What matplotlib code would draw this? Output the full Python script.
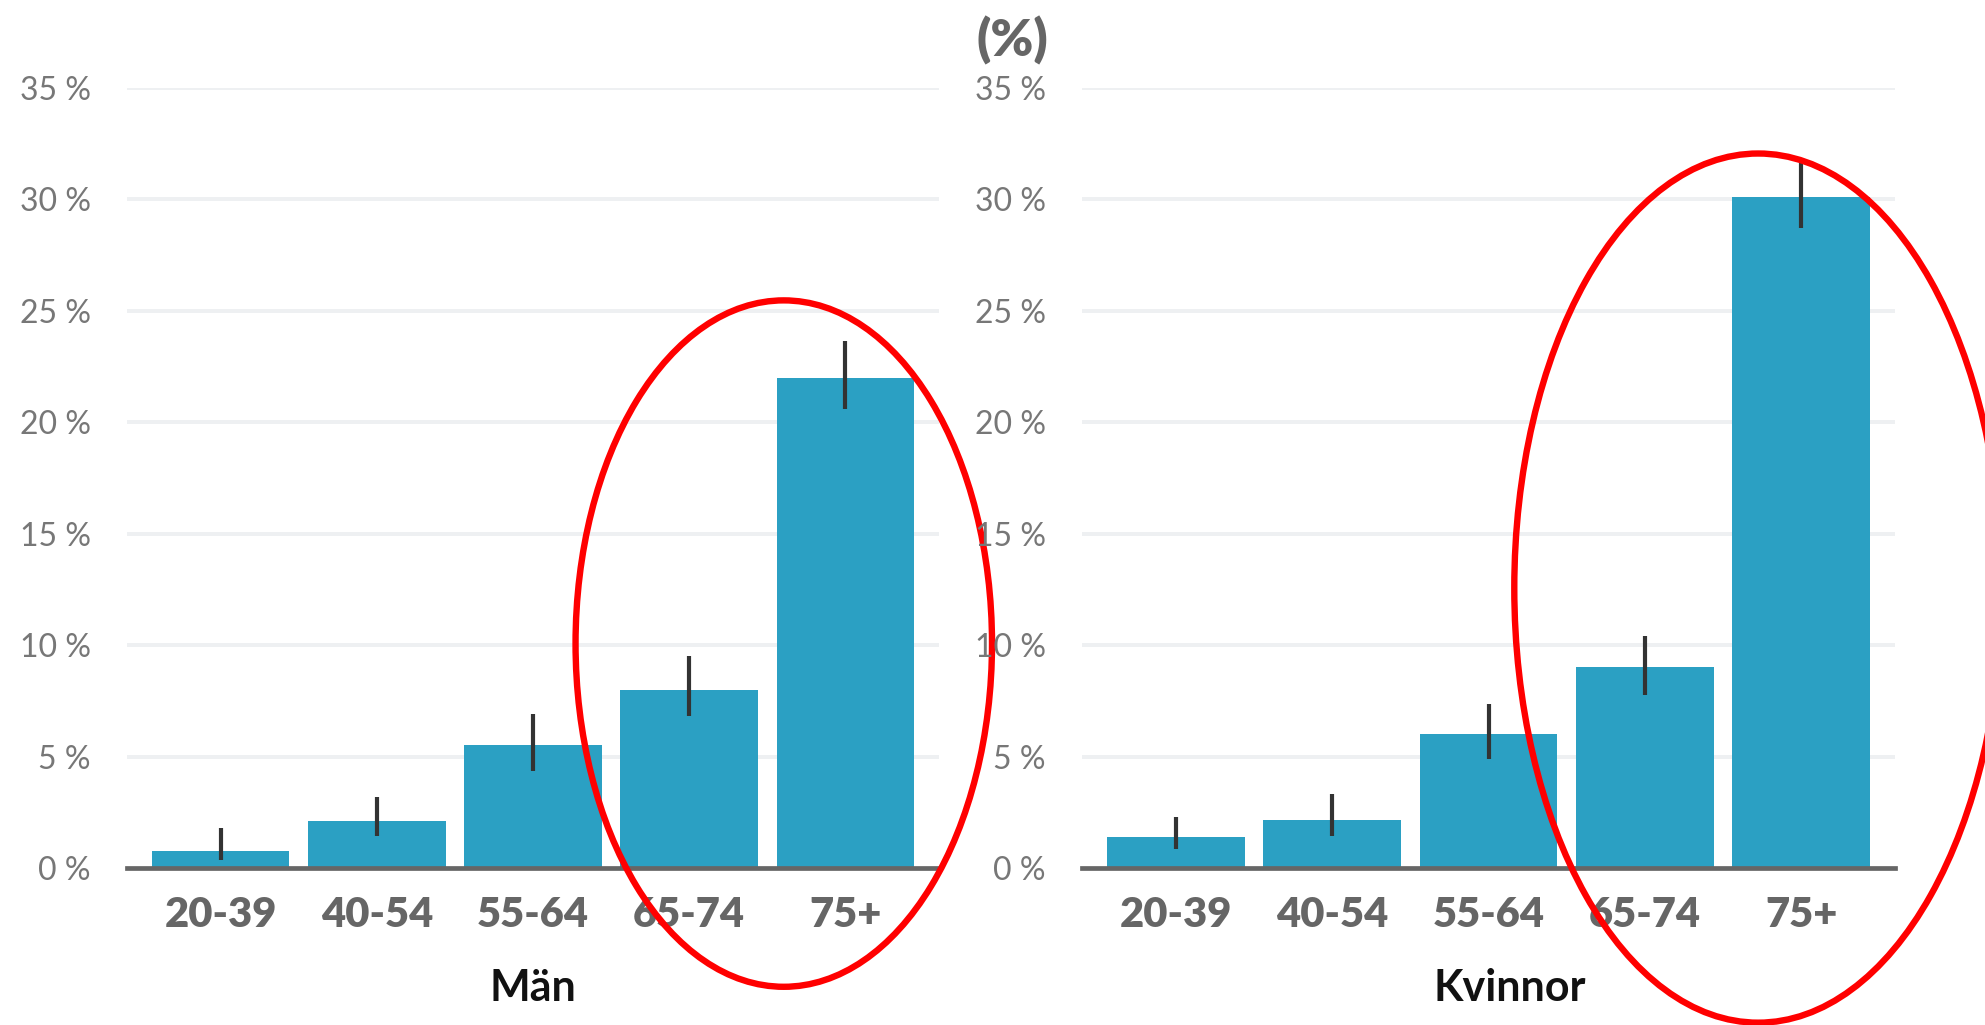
import matplotlib.pyplot as plt
from matplotlib.patches import Ellipse

# ---------------- DATA
ageGroups = ['20-39', '40-54', '55-64', '65-74', '75+']
yTicks = [0, 5, 10, 15, 20, 25, 30, 35]
yTickLabels = ['%d %%' % t for t in yTicks]

menValues = [0.75, 2.1, 5.5, 8.0, 22.0]
menLow = [0.35, 1.45, 4.35, 6.8, 20.6]
menHigh = [1.8, 3.2, 6.9, 9.5, 23.65]

womenValues = [1.4, 2.15, 6.0, 9.0, 30.1]
womenLow = [0.85, 1.45, 4.9, 7.75, 28.7]
womenHigh = [2.3, 3.3, 7.35, 10.4, 31.7]

panelTitles = ['Män', 'Kvinnor']
unitLabel = '(%)'

# ---------------- STYLE
barColor = '#2ba0c3'
gridColor = '#eef0f2'
axisColor = '#666666'
tickColor = '#777777'
plt.rcParams['font.family'] = ['Lato', 'DejaVu Sans']

W, H = 1985, 1025
fig = plt.figure(figsize=(W / 100, H / 100), dpi=100)

# axes rectangles in pixels: left, right, bottom (0 %), top (35 %)
panels = [(127, 939, 868, 88), (1082, 1895, 868, 88)]
datasets = [(menValues, menLow, menHigh), (womenValues, womenLow, womenHigh)]
# ellipse (centre x in category units, centre y in %, width, height)
ellipses = [(3.606, 10.07, 2.667, 30.8), (3.725, 12.56, 3.12, 39.0)]
titleX = [533, 1510]

for ii in range(2):
    x0, x1, yb, yt = panels[ii]
    ax = fig.add_axes([x0 / W, 1 - yb / H, (x1 - x0) / W, (yb - yt) / H])
    vals, lo, hi = datasets[ii]
    pos = list(range(len(ageGroups)))
    yerr = [[v - l for v, l in zip(vals, lo)], [h - v for v, h in zip(vals, hi)]]
    ax.bar(pos, vals, width=0.88, color=barColor, zorder=2)
    ax.errorbar(pos, vals, yerr=yerr, fmt='none', ecolor='#333333',
                elinewidth=3.0, capsize=0, zorder=3)
    ax.set_xlim(-0.6, 4.6)
    ax.set_ylim(0, 35)
    ax.set_yticks(yTicks)
    ax.set_yticklabels(yTickLabels, color=tickColor, fontsize=23)
    ax.set_xticks(pos)
    ax.set_xticklabels(ageGroups, color=axisColor, fontsize=30, fontweight='heavy')
    ax.tick_params(axis='both', length=0)
    ax.tick_params(axis='y', pad=26)
    ax.tick_params(axis='x', pad=20)
    for yy in yTicks[1:]:
        ax.axhline(yy, color=gridColor, lw=2.8, zorder=1)
    for s in ['top', 'right', 'left']:
        ax.spines[s].set_visible(False)
    ax.spines['bottom'].set_color(axisColor)
    ax.spines['bottom'].set_linewidth(3.4)
    ax.spines['bottom'].set_zorder(4)

    cx, cy, ew, eh = ellipses[ii]
    ax.add_patch(Ellipse((cx, cy), ew, eh, fill=False, edgecolor='#ff0000',
                         lw=4.6, clip_on=False, zorder=5))

    fig.text(titleX[ii] / W, 1 - 988 / H, panelTitles[ii], ha='center', va='center',
             fontsize=31, fontweight='bold', color='#111111')

fig.text(1012 / W, 1 - 40 / H, unitLabel, ha='center', va='center',
         fontsize=37, fontweight='heavy', color=axisColor)

fig.savefig('out.png', dpi=100, facecolor='white')
